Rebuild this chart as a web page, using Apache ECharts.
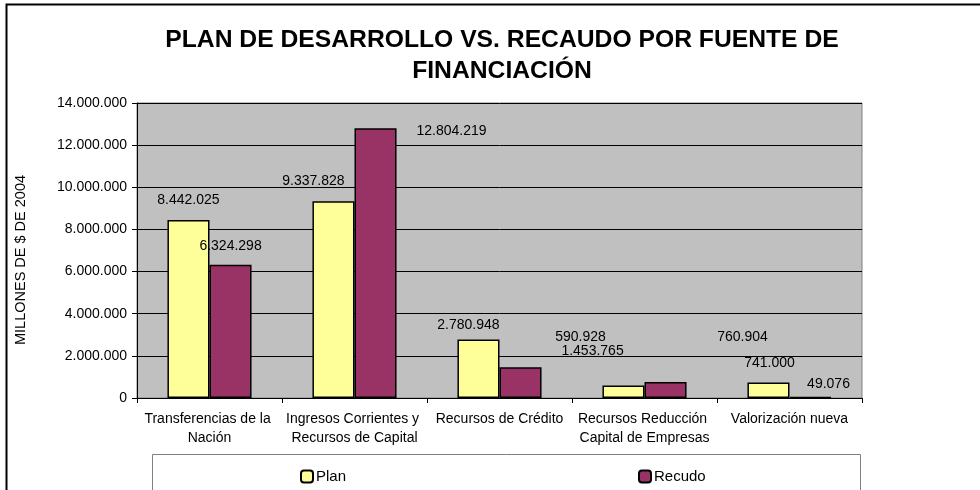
<!DOCTYPE html>
<html>
<head>
<meta charset="utf-8">
<script src="https://cdn.jsdelivr.net/npm/echarts@6/dist/echarts.min.js"></script>
<style>html,body{margin:0;padding:0;background:#fff}#c{width:980px;height:490px}</style>
</head>
<body>
<div id="c"></div>
<script>
var categories = ["Transferencias de la Nación", "Ingresos Corrientes y Recursos de Capital", "Recursos de Crédito", "Recursos Reducción Capital de Empresas", "Valorización nueva"];
var planValues = [8442025, 9337828, 2780948, 590928, 741000];
var recaudoValues = [6324298, 12804219, 1453765, 760904, 49076];
var seriesNames = ["Plan", "Recudo"];
var yTicks = {min: 0, max: 14000000, interval: 2000000};

// label nudges (style only)
var planNudge = [[0,-8],[-20,-8],[-10,-2],[-43,-36],[1,-7]];
var recNudge = [[0,-7],[76,15],[72,-4],[77,-33],[18,-1]];

function fmt(v){ return String(Math.round(v)).replace(/\B(?=(\d{3})+(?!\d))/g, "."); }
function build(vals, nudge){
  return vals.map(function(v,i){ return {value: v, label: {offset: nudge[i]}}; });
}
var FONT = "Liberation Sans, Arial, sans-serif";
var chart = echarts.init(document.getElementById('c'), null, {renderer:'canvas'});
var labelCommon = {show: true, position: 'top', distance: 5, color: '#000', fontSize: 14, fontFamily: FONT, formatter: function(p){return fmt(p.value);}};
chart.setOption({
  animation: false,
  backgroundColor: '#fff',
  textStyle: {fontFamily: FONT},
  title: {
    text: "PLAN DE DESARROLLO VS. RECAUDO POR FUENTE DE\nFINANCIACIÓN",
    left: 497, textAlign: 'center', top: 20,
    textStyle: {fontSize: 24.7, fontWeight: 'bold', color: '#000', fontFamily: FONT, lineHeight: 31}
  },
  legend: [
    {data: [seriesNames[0]], left: 295, top: 464, itemWidth: 12, itemHeight: 12, itemGap: 4,
     textStyle: {fontSize: 15, color: '#000', fontFamily: FONT, padding: [0,0,0,-2]}},
    {data: [seriesNames[1]], left: 633, top: 464, itemWidth: 12, itemHeight: 12, itemGap: 4,
     textStyle: {fontSize: 15, color: '#000', fontFamily: FONT, padding: [0,0,0,-2]}}
  ],
  grid: {left: 137, right: 118, top: 103, bottom: 92, show: true, backgroundColor: '#c0c0c0', borderColor: '#808080', borderWidth: 1},
  xAxis: {
    type: 'category', data: categories,
    axisLine: {show: true, lineStyle: {color: '#000', width: 1}},
    axisTick: {show: true, length: 5, lineStyle: {color: '#000'}},
    axisLabel: {interval: 0, color: '#000', fontSize: 14, fontFamily: FONT, margin: 12, width: 146, overflow: 'break', lineHeight: 19}
  },
  yAxis: {
    type: 'value', min: yTicks.min, max: yTicks.max, interval: yTicks.interval,
    axisLine: {show: true, lineStyle: {color: '#000', width: 1}},
    axisTick: {show: true, length: 5, lineStyle: {color: '#000'}},
    axisLabel: {color: '#000', fontSize: 14, fontFamily: FONT, margin: 10, formatter: function(v){return fmt(v);}},
    splitLine: {show: true, lineStyle: {color: '#000', width: 1}}
  },
  graphic: [
    {type: 'rect', shape: {x: 6.5, y: 4.5, width: 1000, height: 520}, style: {fill: 'none', stroke: '#000', lineWidth: 2}, z: -1},
    {type: 'rect', shape: {x: 152.5, y: 454.5, width: 708, height: 60}, style: {fill: '#fff', stroke: '#808080', lineWidth: 1}, z: -1},
    {type: 'text', x: 21, y: 260, rotation: Math.PI/2, style: {text: "MILLONES DE $ DE 2004", fill: '#000', font: '14.5px ' + FONT, textAlign: 'center', textVerticalAlign: 'middle'}}
  ],
  series: [
    {name: seriesNames[0], type: 'bar', data: build(planValues, planNudge), barGap: '0%', barCategoryGap: '42%',
     itemStyle: {color: '#ffff99', borderColor: '#000', borderWidth: 1.5}, label: labelCommon},
    {name: seriesNames[1], type: 'bar', data: build(recaudoValues, recNudge),
     itemStyle: {color: '#993366', borderColor: '#000', borderWidth: 1.5}, label: labelCommon}
  ]
});
</script>
</body>
</html>
